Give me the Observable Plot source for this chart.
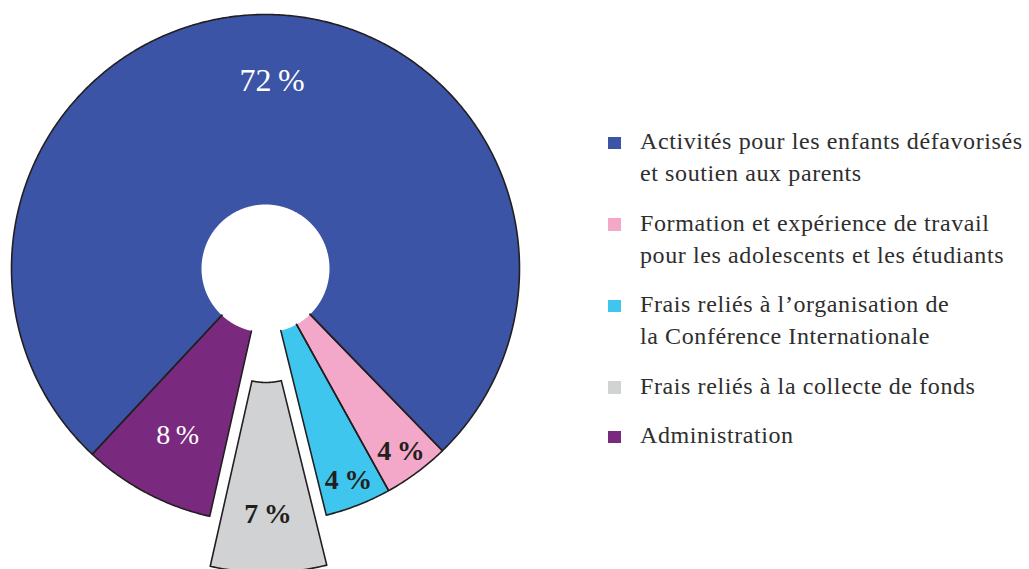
<!DOCTYPE html>
<html>
<head>
<meta charset="utf-8">
<script src="https://cdn.jsdelivr.net/npm/d3@7"></script>
<script src="https://cdn.jsdelivr.net/npm/@observablehq/plot@0.6"></script>
<style>
  html, body { margin: 0; padding: 0; background: #ffffff; }
  #wrap { position: relative; width: 1029px; height: 569px; overflow: hidden; background: #fff; }
  #chart { position: absolute; left: 0; top: 0; }
  #legend { position: absolute; left: 608px; top: 125px; font-family: "Liberation Serif", serif; font-size: 24px; letter-spacing: 0.6px; line-height: 32px; color: #2e2e2e; }
  .item { position: relative; padding-left: 32px; margin-bottom: 17.5px; white-space: nowrap; }
  .sw { position: absolute; left: 0; top: 11.5px; width: 12.5px; height: 12.5px; }
</style>
</head>
<body>
<div id="wrap">
  <div id="chart"></div>
  <div id="legend"></div>
</div>
<script>
// ---- data ----
const categories = [
  "Activités pour les enfants défavorisés et soutien aux parents",
  "Formation et expérience de travail pour les adolescents et les étudiants",
  "Frais reliés à l’organisation de la Conférence Internationale",
  "Frais reliés à la collecte de fonds",
  "Administration"
];
const legendLines = [
  ["Activités pour les enfants défavorisés", "et soutien aux parents"],
  ["Formation et expérience de travail", "pour les adolescents et les étudiants"],
  ["Frais reliés à l’organisation de", "la Conférence Internationale"],
  ["Frais reliés à la collecte de fonds"],
  ["Administration"]
];
const values = [72, 4, 4, 7, 8];
const valueLabels = ["72\u2009%", "4\u2009%", "4\u2009%", "7\u2009%", "8\u2009%"];
const colors = ["#3b54a5", "#f3a7c9", "#3ec6ef", "#d1d2d4", "#7a2a7e"];
const explodedSlice = ["Frais reliés à la collecte de fonds"];

// ---- layout (pixels -> unit radius) ----
const W = 560, H = 569, CX = 265, CY = 268, RPX = 254;
const R_OUT = 1, R_IN = 64 / RPX, EXPLODE = 50 / RPX;
const START = -137 * Math.PI / 180;

const rows = categories.map((c, i) => ({cat: c, value: values[i], label: valueLabels[i], color: colors[i]}));
const arcs = d3.pie().sort(null).value(d => d.value)
  .startAngle(START).endAngle(START + 2 * Math.PI)(rows);

const fillPts = [], outlinePts = [], labelPts = [];
arcs.forEach((a, k) => {
  const d = a.data;
  const ex = explodedSlice.includes(d.cat);
  const mid = (a.startAngle + a.endAngle) / 2;
  const ox = ex ? Math.sin(mid) * EXPLODE : 0;
  const oy = ex ? Math.cos(mid) * EXPLODE : 0;
  const P = (ang, rad) => ({x: ox + Math.sin(ang) * rad, y: oy + Math.cos(ang) * rad});
  const n = Math.max(8, Math.ceil((a.endAngle - a.startAngle) / 0.008));
  const outer = d3.range(n + 1).map(i => P(a.startAngle + (a.endAngle - a.startAngle) * i / n, R_OUT));
  const inner = d3.range(n + 1).map(i => P(a.endAngle - (a.endAngle - a.startAngle) * i / n, R_IN));
  [...outer, ...inner].forEach(p => fillPts.push({...p, slice: k, cat: d.cat}));
  let ol = [inner[n], ...outer, inner[0]];
  if (ex) ol = [...outer, ...inner, outer[0]];
  ol.forEach(p => outlinePts.push({...p, slice: k}));
  const lr = d.value < 5 ? 0.895 : (ex ? 0.77 : 0.74);
  const lp = P(mid + (d.value > 50 ? 0.045 : 0), lr);
  const dark = d3.lab(d.color).l > 60;
  labelPts.push({...lp, text: d.label, dark, size: d.value > 50 ? 32 : 28});
});

const chart = Plot.plot({
  width: W, height: H,
  marginTop: 0, marginRight: 0, marginBottom: 0, marginLeft: 0,
  x: {domain: [-CX / RPX, (W - CX) / RPX], axis: null},
  y: {domain: [-(H - CY) / RPX, CY / RPX], axis: null},
  color: {domain: categories, range: colors},
  style: {background: "white"},
  marks: [
    Plot.line(fillPts, {x: "x", y: "y", z: "slice", fill: "cat", stroke: null, curve: "linear-closed", clip: true}),
    Plot.line(outlinePts, {x: "x", y: "y", z: "slice", stroke: "#231f20", strokeWidth: 1.6, curve: "linear", clip: true}),
    Plot.text(labelPts.filter(d => !d.dark), {x: "x", y: "y", text: "text", fill: "white", fontSize: "size",
      fontFamily: "Liberation Serif", fontWeight: "normal"}),
    Plot.text(labelPts.filter(d => d.dark), {x: "x", y: "y", text: "text", fill: "#231f20", fontSize: "size",
      fontFamily: "Liberation Serif", fontWeight: "bold"})
  ]
});
document.getElementById("chart").appendChild(chart);

// ---- legend ----
const lg = document.getElementById("legend");
legendLines.forEach((lines, i) => {
  const it = document.createElement("div");
  it.className = "item";
  const sw = document.createElement("span");
  sw.className = "sw";
  sw.style.background = colors[i];
  it.appendChild(sw);
  lines.forEach(t => { const l = document.createElement("div"); l.textContent = t; it.appendChild(l); });
  lg.appendChild(it);
});
</script>
</body>
</html>
